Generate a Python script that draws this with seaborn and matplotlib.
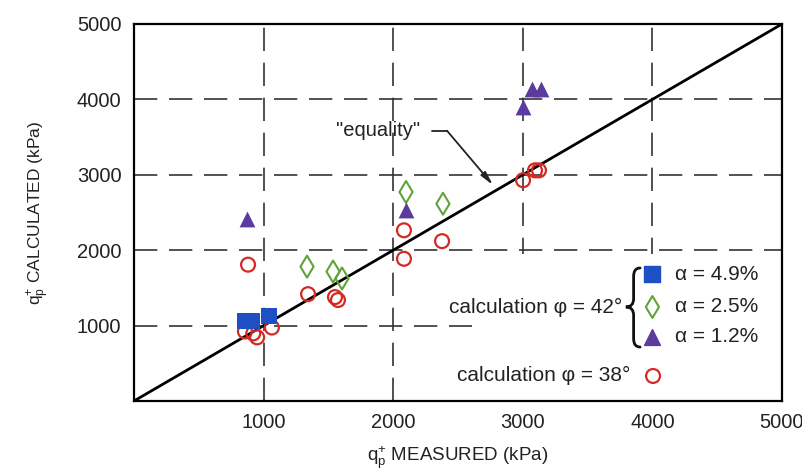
import numpy as np
import pandas as pd
import matplotlib
matplotlib.use("Agg")
import matplotlib.pyplot as plt
from matplotlib.patches import Rectangle, PathPatch
from matplotlib.path import Path
import seaborn as sns

# ---- data ----
sq_x = [860, 910, 1040]            # alpha = 4.9 %, phi = 42
sq_y = [1060, 1060, 1130]
dia_x = [1335, 1536, 1605, 2099, 2384]   # alpha = 2.5 %
dia_y = [1782, 1717, 1625, 2772, 2616]
tri_x = [872, 2099, 3002, 3071, 3140]    # alpha = 1.2 %
tri_y = [2420, 2537, 3893, 4140, 4140]
circ_x = [880, 856, 920, 950, 1064, 1343, 1551, 1574, 2083, 2083, 2377, 3002, 3094, 3125]  # phi = 38
circ_y = [1808, 922, 896, 844, 974, 1417, 1378, 1339, 2264, 1886, 2120, 2928, 3059, 3059]
eq_x = [0, 5000]
eq_y = [0, 5000]
ticks = [1000, 2000, 3000, 4000, 5000]
grid_vals = [1000, 2000, 3000, 4000]
legend_42 = ["α = 4.9%", "α = 2.5%", "α = 1.2%"]

C_BLUE = "#1f4fc4"
C_GREEN = "#5fa33a"
C_PURPLE = "#5b3c9e"
C_RED = "#d42a24"
C_TEXT = "#222222"

sns.set_style("white")
plt.rcParams["font.family"] = ["Liberation Sans", "DejaVu Sans"]
plt.rcParams["mathtext.fontset"] = "custom"
plt.rcParams["mathtext.rm"] = "Liberation Sans"
plt.rcParams["mathtext.it"] = "Liberation Sans"

fig = plt.figure(figsize=(8.03, 4.74), dpi=100)
ax = fig.add_axes([134 / 803, 73 / 474, 648 / 803, 377 / 474])
ax.set_xlim(0, 5000)
ax.set_ylim(0, 5000)

# grid (dashed)
for g in grid_vals:
    ax.axvline(g, color="#333333", lw=1.2, ls=(0, (14, 7)), zorder=0.5)
    ax.axhline(g, color="#333333", lw=1.2, ls=(0, (14, 7)), zorder=0.5)

# white legend box hiding grid
ax.add_patch(Rectangle((2610, 0), 2390, 1950, facecolor="white", edgecolor="none", zorder=1))

# equality line
sns.lineplot(x=eq_x, y=eq_y, ax=ax, color="black", lw=2.0, zorder=3, legend=False)

# data points
sns.scatterplot(x=circ_x, y=circ_y, ax=ax, marker="o", s=100, facecolors="none",
                edgecolor=C_RED, linewidth=1.6, zorder=4, legend=False)
sns.scatterplot(x=sq_x, y=sq_y, ax=ax, marker="s", s=125, color=C_BLUE,
                edgecolor=C_BLUE, linewidth=0, zorder=5, legend=False)
sns.scatterplot(x=dia_x, y=dia_y, ax=ax, marker="d", s=125, facecolors="none",
                edgecolor=C_GREEN, linewidth=1.5, zorder=5, legend=False)
sns.scatterplot(x=tri_x, y=tri_y, ax=ax, marker="^", s=130, color=C_PURPLE,
                edgecolor=C_PURPLE, linewidth=0, zorder=5, legend=False)

# "equality" annotation
ax.text(1883, 3585, '"equality"', fontsize=14.5, ha="center", va="center", color=C_TEXT, zorder=6)
ax.plot([2300, 2415], [3585, 3585], color=C_TEXT, lw=1.3, zorder=6)
ax.annotate("", xy=(2770, 2864), xytext=(2415, 3585),
            arrowprops=dict(arrowstyle="-|>,head_length=0.8,head_width=0.18",
                            color=C_TEXT, lw=1.3, shrinkA=0, shrinkB=0), zorder=6)

# custom legend
ax.text(3765, 1247, "calculation φ = 42°", fontsize=15, ha="right", va="center", color=C_TEXT, zorder=6)
# curly brace
xr, xm, xl = 3905, 3855, 3795
yt, ym, yb = 1764, 1247, 716
d = 110
verts = [(xr, yt), (xm, yt), (xm, yt - d),
         (xm, ym + d),
         (xm, ym), (xl, ym),
         (xm, ym), (xm, ym - d),
         (xm, yb + d),
         (xm, yb), (xr, yb)]
codes = [Path.MOVETO, Path.CURVE3, Path.CURVE3,
         Path.LINETO,
         Path.CURVE3, Path.CURVE3,
         Path.CURVE3, Path.CURVE3,
         Path.LINETO,
         Path.CURVE3, Path.CURVE3]
ax.add_patch(PathPatch(Path(verts, codes), facecolor="none", edgecolor="#111111", lw=2.0,
                       zorder=6, capstyle="round"))
ly = [1684, 1247, 849]
ax.scatter([4000], [ly[0]], marker="s", s=125, color=C_BLUE, zorder=6)
ax.scatter([4000], [ly[1]], marker="d", s=125, facecolors="none", edgecolors=C_GREEN, linewidths=1.5, zorder=6)
ax.scatter([4000], [ly[2]], marker="^", s=130, color=C_PURPLE, zorder=6)
for lab, yy in zip(legend_42, ly):
    ax.text(4174, yy, lab, fontsize=15, ha="left", va="center", color=C_TEXT, zorder=6)
ax.text(3827, 332, "calculation φ = 38°", fontsize=15, ha="right", va="center", color=C_TEXT, zorder=6)
ax.scatter([4005], [332], marker="o", s=100, facecolors="none", edgecolors=C_RED, linewidths=1.6, zorder=6)

# axes styling
ax.set_xticks(ticks)
ax.set_yticks(ticks)
ax.tick_params(axis="both", direction="in", length=10, width=1.3, labelsize=14.5,
               colors="black", pad=9)
for lbl in ax.get_xticklabels() + ax.get_yticklabels():
    lbl.set_color(C_TEXT)
for sp in ax.spines.values():
    sp.set_visible(True)
    sp.set_color("black")
    sp.set_linewidth(1.6)
    sp.set_zorder(7)

ax.set_xlabel(r"$\mathrm{q}_{\mathrm{p}}^{+}$ MEASURED (kPa)", fontsize=13.5, labelpad=8, color=C_TEXT)
ax.set_ylabel(r"$\mathrm{q}_{\mathrm{p}}^{+}$ CALCULATED (kPa)", fontsize=12.5, labelpad=18, color=C_TEXT)

fig.savefig("out.png", dpi=100, facecolor="white")
